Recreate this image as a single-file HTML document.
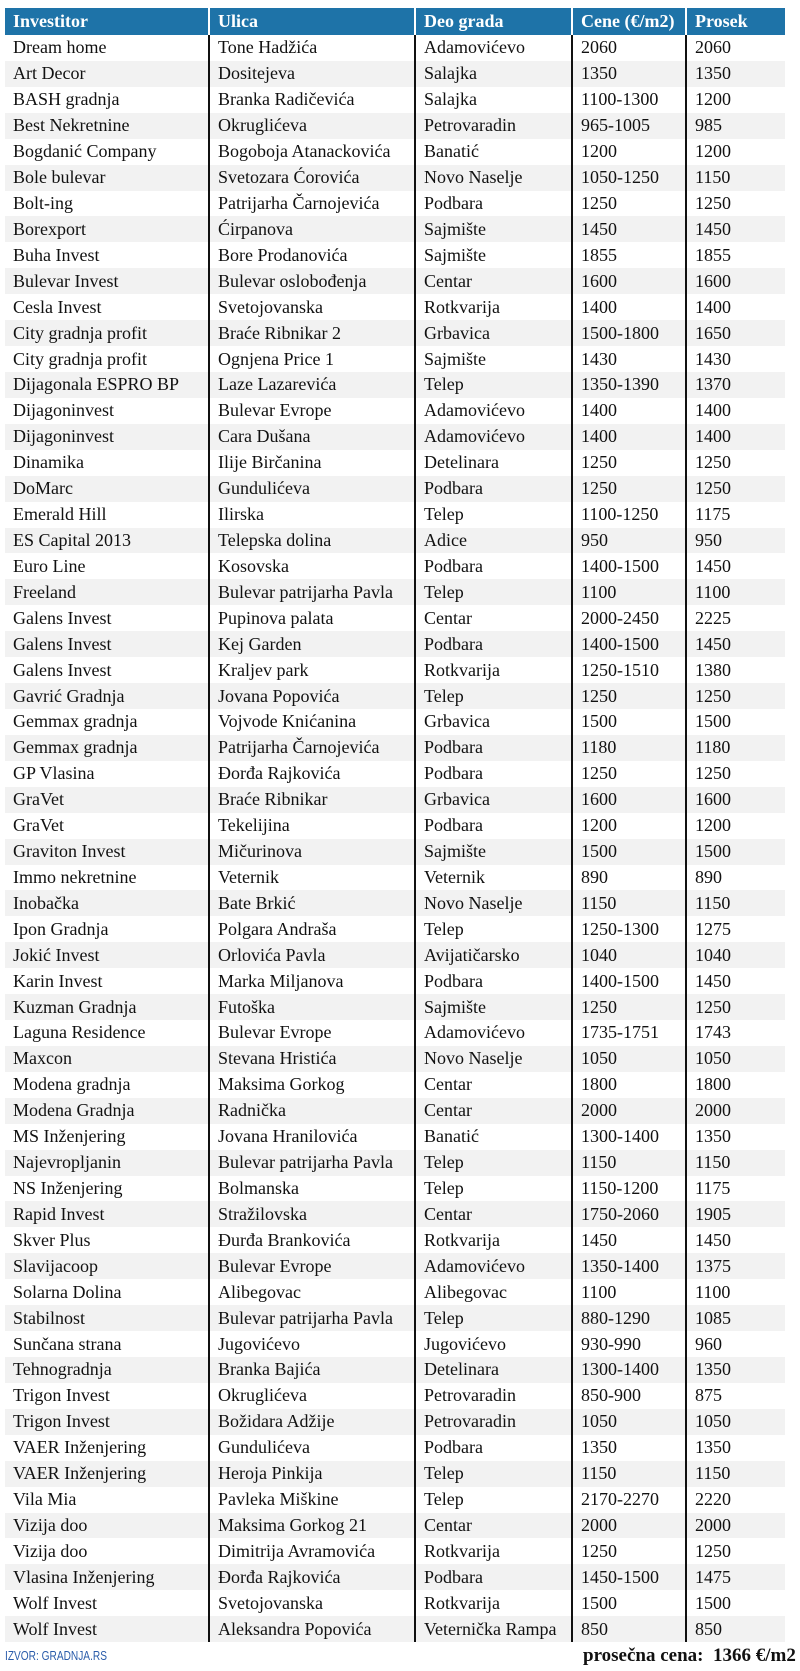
<!DOCTYPE html>
<html><head><meta charset="utf-8">
<style>
body{margin:0;width:800px;height:1671px;background:#fff;position:relative;overflow:hidden;font-family:"Liberation Serif",serif;}
table{position:absolute;left:5px;top:8px;width:780px;border-collapse:collapse;table-layout:fixed;font-size:18px;color:#111;}
td,th{padding:0 0 0 8px;height:25.93px;line-height:25px;white-space:nowrap;overflow:hidden;text-align:left;}
th{background:#1e73a8;color:#fff;font-weight:bold;height:27px;border-left:2px solid #fff;}
th:first-child,td:first-child{border-left:none}
td{border-left:2px solid #111;}
tr:nth-child(odd) td{background:#f2f2f2}
.src{position:absolute;left:5px;top:1648px;font-family:"Liberation Sans",sans-serif;font-size:13px;color:#2a5caa;transform:scaleX(0.78);transform-origin:left;}
.avg{position:absolute;left:583px;top:1645px;font-size:19px;font-weight:bold;color:#111;}
</style></head><body>
<table>
<colgroup><col style="width:204px"><col style="width:206px"><col style="width:157px"><col style="width:114px"><col style="width:99px"></colgroup>
<tr><th>Investitor</th><th>Ulica</th><th>Deo grada</th><th>Cene (€/m2)</th><th>Prosek</th></tr>
<tr><td>Dream home</td><td>Tone Hadžića</td><td>Adamovićevo</td><td>2060</td><td>2060</td></tr>
<tr><td>Art Decor</td><td>Dositejeva</td><td>Salajka</td><td>1350</td><td>1350</td></tr>
<tr><td>BASH gradnja</td><td>Branka Radičevića</td><td>Salajka</td><td>1100-1300</td><td>1200</td></tr>
<tr><td>Best Nekretnine</td><td>Okruglićeva</td><td>Petrovaradin</td><td>965-1005</td><td>985</td></tr>
<tr><td>Bogdanić Company</td><td>Bogoboja Atanackovića</td><td>Banatić</td><td>1200</td><td>1200</td></tr>
<tr><td>Bole bulevar</td><td>Svetozara Ćorovića</td><td>Novo Naselje</td><td>1050-1250</td><td>1150</td></tr>
<tr><td>Bolt-ing</td><td>Patrijarha Čarnojevića</td><td>Podbara</td><td>1250</td><td>1250</td></tr>
<tr><td>Borexport</td><td>Ćirpanova</td><td>Sajmište</td><td>1450</td><td>1450</td></tr>
<tr><td>Buha Invest</td><td>Bore Prodanovića</td><td>Sajmište</td><td>1855</td><td>1855</td></tr>
<tr><td>Bulevar Invest</td><td>Bulevar oslobođenja</td><td>Centar</td><td>1600</td><td>1600</td></tr>
<tr><td>Cesla Invest</td><td>Svetojovanska</td><td>Rotkvarija</td><td>1400</td><td>1400</td></tr>
<tr><td>City gradnja profit</td><td>Braće Ribnikar 2</td><td>Grbavica</td><td>1500-1800</td><td>1650</td></tr>
<tr><td>City gradnja profit</td><td>Ognjena Price 1</td><td>Sajmište</td><td>1430</td><td>1430</td></tr>
<tr><td>Dijagonala ESPRO BP</td><td>Laze Lazarevića</td><td>Telep</td><td>1350-1390</td><td>1370</td></tr>
<tr><td>Dijagoninvest</td><td>Bulevar Evrope</td><td>Adamovićevo</td><td>1400</td><td>1400</td></tr>
<tr><td>Dijagoninvest</td><td>Cara Dušana</td><td>Adamovićevo</td><td>1400</td><td>1400</td></tr>
<tr><td>Dinamika</td><td>Ilije Birčanina</td><td>Detelinara</td><td>1250</td><td>1250</td></tr>
<tr><td>DoMarc</td><td>Gundulićeva</td><td>Podbara</td><td>1250</td><td>1250</td></tr>
<tr><td>Emerald Hill</td><td>Ilirska</td><td>Telep</td><td>1100-1250</td><td>1175</td></tr>
<tr><td>ES Capital 2013</td><td>Telepska dolina</td><td>Adice</td><td>950</td><td>950</td></tr>
<tr><td>Euro Line</td><td>Kosovska</td><td>Podbara</td><td>1400-1500</td><td>1450</td></tr>
<tr><td>Freeland</td><td>Bulevar patrijarha Pavla</td><td>Telep</td><td>1100</td><td>1100</td></tr>
<tr><td>Galens Invest</td><td>Pupinova palata</td><td>Centar</td><td>2000-2450</td><td>2225</td></tr>
<tr><td>Galens Invest</td><td>Kej Garden</td><td>Podbara</td><td>1400-1500</td><td>1450</td></tr>
<tr><td>Galens Invest</td><td>Kraljev park</td><td>Rotkvarija</td><td>1250-1510</td><td>1380</td></tr>
<tr><td>Gavrić Gradnja</td><td>Jovana Popovića</td><td>Telep</td><td>1250</td><td>1250</td></tr>
<tr><td>Gemmax gradnja</td><td>Vojvode Knićanina</td><td>Grbavica</td><td>1500</td><td>1500</td></tr>
<tr><td>Gemmax gradnja</td><td>Patrijarha Čarnojevića</td><td>Podbara</td><td>1180</td><td>1180</td></tr>
<tr><td>GP Vlasina</td><td>Đorđa Rajkovića</td><td>Podbara</td><td>1250</td><td>1250</td></tr>
<tr><td>GraVet</td><td>Braće Ribnikar</td><td>Grbavica</td><td>1600</td><td>1600</td></tr>
<tr><td>GraVet</td><td>Tekelijina</td><td>Podbara</td><td>1200</td><td>1200</td></tr>
<tr><td>Graviton Invest</td><td>Mičurinova</td><td>Sajmište</td><td>1500</td><td>1500</td></tr>
<tr><td>Immo nekretnine</td><td>Veternik</td><td>Veternik</td><td>890</td><td>890</td></tr>
<tr><td>Inobačka</td><td>Bate Brkić</td><td>Novo Naselje</td><td>1150</td><td>1150</td></tr>
<tr><td>Ipon Gradnja</td><td>Polgara Andraša</td><td>Telep</td><td>1250-1300</td><td>1275</td></tr>
<tr><td>Jokić Invest</td><td>Orlovića Pavla</td><td>Avijatičarsko</td><td>1040</td><td>1040</td></tr>
<tr><td>Karin Invest</td><td>Marka Miljanova</td><td>Podbara</td><td>1400-1500</td><td>1450</td></tr>
<tr><td>Kuzman Gradnja</td><td>Futoška</td><td>Sajmište</td><td>1250</td><td>1250</td></tr>
<tr><td>Laguna Residence</td><td>Bulevar Evrope</td><td>Adamovićevo</td><td>1735-1751</td><td>1743</td></tr>
<tr><td>Maxcon</td><td>Stevana Hristića</td><td>Novo Naselje</td><td>1050</td><td>1050</td></tr>
<tr><td>Modena gradnja</td><td>Maksima Gorkog</td><td>Centar</td><td>1800</td><td>1800</td></tr>
<tr><td>Modena Gradnja</td><td>Radnička</td><td>Centar</td><td>2000</td><td>2000</td></tr>
<tr><td>MS Inženjering</td><td>Jovana Hranilovića</td><td>Banatić</td><td>1300-1400</td><td>1350</td></tr>
<tr><td>Najevropljanin</td><td>Bulevar patrijarha Pavla</td><td>Telep</td><td>1150</td><td>1150</td></tr>
<tr><td>NS Inženjering</td><td>Bolmanska</td><td>Telep</td><td>1150-1200</td><td>1175</td></tr>
<tr><td>Rapid Invest</td><td>Stražilovska</td><td>Centar</td><td>1750-2060</td><td>1905</td></tr>
<tr><td>Skver Plus</td><td>Đurđa Brankovića</td><td>Rotkvarija</td><td>1450</td><td>1450</td></tr>
<tr><td>Slavijacoop</td><td>Bulevar Evrope</td><td>Adamovićevo</td><td>1350-1400</td><td>1375</td></tr>
<tr><td>Solarna Dolina</td><td>Alibegovac</td><td>Alibegovac</td><td>1100</td><td>1100</td></tr>
<tr><td>Stabilnost</td><td>Bulevar patrijarha Pavla</td><td>Telep</td><td>880-1290</td><td>1085</td></tr>
<tr><td>Sunčana strana</td><td>Jugovićevo</td><td>Jugovićevo</td><td>930-990</td><td>960</td></tr>
<tr><td>Tehnogradnja</td><td>Branka Bajića</td><td>Detelinara</td><td>1300-1400</td><td>1350</td></tr>
<tr><td>Trigon Invest</td><td>Okruglićeva</td><td>Petrovaradin</td><td>850-900</td><td>875</td></tr>
<tr><td>Trigon Invest</td><td>Božidara Adžije</td><td>Petrovaradin</td><td>1050</td><td>1050</td></tr>
<tr><td>VAER Inženjering</td><td>Gundulićeva</td><td>Podbara</td><td>1350</td><td>1350</td></tr>
<tr><td>VAER Inženjering</td><td>Heroja Pinkija</td><td>Telep</td><td>1150</td><td>1150</td></tr>
<tr><td>Vila Mia</td><td>Pavleka Miškine</td><td>Telep</td><td>2170-2270</td><td>2220</td></tr>
<tr><td>Vizija doo</td><td>Maksima Gorkog 21</td><td>Centar</td><td>2000</td><td>2000</td></tr>
<tr><td>Vizija doo</td><td>Dimitrija Avramovića</td><td>Rotkvarija</td><td>1250</td><td>1250</td></tr>
<tr><td>Vlasina Inženjering</td><td>Đorđa Rajkovića</td><td>Podbara</td><td>1450-1500</td><td>1475</td></tr>
<tr><td>Wolf Invest</td><td>Svetojovanska</td><td>Rotkvarija</td><td>1500</td><td>1500</td></tr>
<tr><td>Wolf Invest</td><td>Aleksandra Popovića</td><td>Veternička Rampa</td><td>850</td><td>850</td></tr>
</table>
<div class="src">IZVOR: GRADNJA.RS</div>
<div class="avg">prosečna cena:&nbsp; 1366 €/m2</div>
</body></html>
